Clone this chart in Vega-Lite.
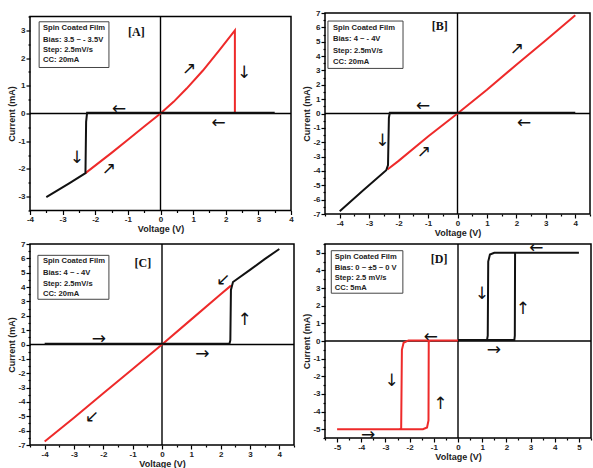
{
"$schema": "https://vega.github.io/schema/vega-lite/v6.json",
"padding": {"left": 7, "top": 8, "right": 0, "bottom": 0},
"autosize": {"type": "pad"},
"columns": 2,
"bounds": "flush",
"align": "each",
"center": {"row": true, "column": false},
"spacing": {"row": 30, "column": 31},
"datasets": {
"zeros": [
{"p":"A","x":0,"y":-3.5,"x2":0,"y2":3.5},{"p":"A","x":-4,"y":0,"x2":4,"y2":0},
{"p":"B","x":0,"y":-7,"x2":0,"y2":7},{"p":"B","x":-4.5,"y":0,"x2":4.5,"y2":0},
{"p":"C","x":0,"y":-7,"x2":0,"y2":7},{"p":"C","x":-4.5,"y":0,"x2":4.5,"y2":0},
{"p":"D","x":0,"y":-5.5,"x2":0,"y2":5.5},{"p":"D","x":-5.5,"y":0,"x2":5.5,"y2":0}
],
"curves": [
{"p":"A","s":"r","k":0,"x":-2.3,"y":-2.15},{"p":"A","s":"r","k":1,"x":-1.5,"y":-1.42},{"p":"A","s":"r","k":2,"x":-1,"y":-0.95},{"p":"A","s":"r","k":3,"x":-0.5,"y":-0.47},{"p":"A","s":"r","k":4,"x":0,"y":0},{"p":"A","s":"r","k":5,"x":0.4,"y":0.42},{"p":"A","s":"r","k":6,"x":0.8,"y":0.9},{"p":"A","s":"r","k":7,"x":1.3,"y":1.55},{"p":"A","s":"r","k":8,"x":1.8,"y":2.28},{"p":"A","s":"r","k":9,"x":2.28,"y":3.0},{"p":"A","s":"r","k":10,"x":2.28,"y":0.03},
{"p":"A","s":"b","k":0,"x":3.5,"y":0.03},{"p":"A","s":"b","k":1,"x":-2.25,"y":0.03},{"p":"A","s":"b","k":2,"x":-2.28,"y":-0.3},{"p":"A","s":"b","k":3,"x":-2.3,"y":-2.15},{"p":"A","s":"b","k":4,"x":-2.8,"y":-2.52},{"p":"A","s":"b","k":5,"x":-3.5,"y":-3.02},
{"p":"B","s":"r","k":0,"x":-2.38,"y":-3.9},{"p":"B","s":"r","k":1,"x":-2,"y":-3.3},{"p":"B","s":"r","k":2,"x":-1,"y":-1.6},{"p":"B","s":"r","k":3,"x":0,"y":0},{"p":"B","s":"r","k":4,"x":1,"y":1.65},{"p":"B","s":"r","k":5,"x":2,"y":3.4},{"p":"B","s":"r","k":6,"x":3,"y":5.1},{"p":"B","s":"r","k":7,"x":4,"y":6.85},
{"p":"B","s":"b","k":0,"x":4,"y":0.05},{"p":"B","s":"b","k":1,"x":-2.3,"y":0.05},{"p":"B","s":"b","k":2,"x":-2.33,"y":-0.3},{"p":"B","s":"b","k":3,"x":-2.36,"y":-3.6},{"p":"B","s":"b","k":4,"x":-2.42,"y":-3.95},{"p":"B","s":"b","k":5,"x":-3.2,"y":-5.35},{"p":"B","s":"b","k":6,"x":-4,"y":-6.8},
{"p":"C","s":"r","k":0,"x":2.35,"y":4.1},{"p":"C","s":"r","k":1,"x":2,"y":3.5},{"p":"C","s":"r","k":2,"x":1,"y":1.75},{"p":"C","s":"r","k":3,"x":0,"y":0},{"p":"C","s":"r","k":4,"x":-1,"y":-1.7},{"p":"C","s":"r","k":5,"x":-2,"y":-3.4},{"p":"C","s":"r","k":6,"x":-3,"y":-5.1},{"p":"C","s":"r","k":7,"x":-4,"y":-6.75},
{"p":"C","s":"b","k":0,"x":-4,"y":0.05},{"p":"C","s":"b","k":1,"x":2.3,"y":0.05},{"p":"C","s":"b","k":2,"x":2.33,"y":0.3},{"p":"C","s":"b","k":3,"x":2.35,"y":3.8},{"p":"C","s":"b","k":4,"x":2.42,"y":4.35},{"p":"C","s":"b","k":5,"x":3,"y":5.2},{"p":"C","s":"b","k":6,"x":3.5,"y":5.95},{"p":"C","s":"b","k":7,"x":4,"y":6.65},
{"p":"D","s":"b","k":0,"x":0,"y":0.05},{"p":"D","s":"b","k":1,"x":2.33,"y":0.05},{"p":"D","s":"b","k":2,"x":2.35,"y":0.3},{"p":"D","s":"b","k":3,"x":2.36,"y":5.0},{"p":"D","s":"b","k":4,"x":5,"y":5.0},{"p":"D","s":"b","k":5,"x":1.5,"y":5.0},{"p":"D","s":"b","k":6,"x":1.32,"y":4.9},{"p":"D","s":"b","k":7,"x":1.25,"y":4.5},{"p":"D","s":"b","k":8,"x":1.23,"y":0.3},{"p":"D","s":"b","k":9,"x":1.2,"y":0.05},{"p":"D","s":"b","k":10,"x":0,"y":0.05},
{"p":"D","s":"r","k":0,"x":0,"y":0.03},{"p":"D","s":"r","k":1,"x":-2.05,"y":0.03},{"p":"D","s":"r","k":2,"x":-2.25,"y":-0.1},{"p":"D","s":"r","k":3,"x":-2.32,"y":-0.5},{"p":"D","s":"r","k":4,"x":-2.35,"y":-4.95},{"p":"D","s":"r","k":5,"x":-2.4,"y":-5.0},{"p":"D","s":"r","k":6,"x":-5,"y":-5.0},{"p":"D","s":"r","k":7,"x":-1.45,"y":-5.0},{"p":"D","s":"r","k":8,"x":-1.28,"y":-4.9},{"p":"D","s":"r","k":9,"x":-1.22,"y":-4.5},{"p":"D","s":"r","k":10,"x":-1.21,"y":-0.05},{"p":"D","s":"r","k":11,"x":-1.15,"y":0.03},{"p":"D","s":"r","k":12,"x":0,"y":0.03}
],
"boxes": [
{"p":"A","x":-3.72,"x2":-1.58,"y":3.31,"y2":1.66},
{"p":"B","x":-4.4,"x2":-1.85,"y":6.44,"y2":3.14},
{"p":"C","x":-4.23,"x2":-1.81,"y":6.21,"y2":3.15},
{"p":"D","x":-5.24,"x2":-2.28,"y":5.12,"y2":2.71}
],
"notes": [
{"p":"A","x":-3.6,"y":3.07,"t":"Spin Coated Film"},{"p":"A","x":-3.6,"y":2.66,"t":"Bias: 3.5 ~ - 3.5V"},{"p":"A","x":-3.6,"y":2.3,"t":"Step: 2.5mV/s"},{"p":"A","x":-3.6,"y":1.94,"t":"CC:  20mA"},
{"p":"B","x":-4.23,"y":5.93,"t":"Spin Coated Film"},{"p":"B","x":-4.23,"y":5.17,"t":"Bias: 4 ~ - 4V"},{"p":"B","x":-4.23,"y":4.35,"t":"Step: 2.5mV/s"},{"p":"B","x":-4.23,"y":3.59,"t":"CC:  20mA"},
{"p":"C","x":-4.06,"y":5.82,"t":"Spin Coated Film"},{"p":"C","x":-4.06,"y":5.0,"t":"Bias: 4 ~ - 4V"},{"p":"C","x":-4.06,"y":4.24,"t":"Step: 2.5mV/s"},{"p":"C","x":-4.06,"y":3.53,"t":"CC:  20mA"},
{"p":"D","x":-5.1,"y":4.78,"t":"Spin Coated Film"},{"p":"D","x":-5.1,"y":4.16,"t":"Bias: 0 ~ ±5 ~ 0 V"},{"p":"D","x":-5.1,"y":3.58,"t":"Step: 2.5 mV/s"},{"p":"D","x":-5.1,"y":3.01,"t":"CC:  5mA"}
],
"tags": [
{"p":"A","x":-0.74,"y":2.93,"t":"[A]"},{"p":"B","x":-0.6,"y":6.09,"t":"[B]"},{"p":"C","x":-0.65,"y":5.7,"t":"[C]"},{"p":"D","x":-0.78,"y":4.65,"t":"[D]"}
],
"arrows": [
{"p":"A","x":-1.27,"y":0.15,"t":"←"},{"p":"A","x":0.88,"y":1.62,"t":"↗"},{"p":"A","x":2.56,"y":1.46,"t":"↓"},{"p":"A","x":1.78,"y":-0.33,"t":"←"},{"p":"A","x":-2.56,"y":-1.62,"t":"↓"},{"p":"A","x":-1.58,"y":-2.02,"t":"↗"},
{"p":"B","x":-1.17,"y":0.52,"t":"←"},{"p":"B","x":2.02,"y":4.46,"t":"↗"},{"p":"B","x":2.26,"y":-0.64,"t":"←"},{"p":"B","x":-2.55,"y":-1.91,"t":"↓"},{"p":"B","x":-1.14,"y":-2.68,"t":"↗"},
{"p":"C","x":-2.15,"y":0.38,"t":"→"},{"p":"C","x":2.08,"y":4.46,"t":"↙"},{"p":"C","x":2.82,"y":1.74,"t":"↑"},{"p":"C","x":1.38,"y":-0.68,"t":"→"},{"p":"C","x":-2.39,"y":-5.08,"t":"↙"},
{"p":"D","x":3.24,"y":5.26,"t":"←"},{"p":"D","x":0.99,"y":2.69,"t":"↓"},{"p":"D","x":2.68,"y":1.82,"t":"↑"},{"p":"D","x":-1.12,"y":0.24,"t":"←"},{"p":"D","x":1.48,"y":-0.49,"t":"→"},{"p":"D","x":-2.75,"y":-2.27,"t":"↓"},{"p":"D","x":-0.73,"y":-3.57,"t":"↑"},{"p":"D","x":-3.72,"y":-5.31,"t":"→"}
]
},
"concat": [
{
"width": 261, "height": 194,
"encoding": {
"x": {"field":"x","type":"quantitative","scale":{"domain":[-4,4],"nice":false,"zero":false},"axis":{"title":"Voltage (V)","values":[-4,-3.5,-3,-2.5,-2,-1.5,-1,-0.5,0,0.5,1,1.5,2,2.5,3,3.5,4],"labelExpr":"datum.value % 1 === 0 ? toString(datum.value) : ''","tickSize":{"condition":{"test":"datum.value % 1 === 0","value":4},"value":2}}},
"y": {"field":"y","type":"quantitative","scale":{"domain":[-3.5,3.5],"nice":false,"zero":false},"axis":{"title":"Current (mA)","values":[-3.5,-3,-2.5,-2,-1.5,-1,-0.5,0,0.5,1,1.5,2,2.5,3,3.5],"labelExpr":"datum.value % 1 === 0 ? toString(datum.value) : ''","tickSize":{"condition":{"test":"datum.value % 1 === 0","value":4},"value":2}}}
},
"layer": [
{"data":{"name":"zeros"},"transform":[{"filter":"datum.p === 'A'"}],"mark":{"type":"rule","color":"#000","strokeWidth":1.4},"encoding":{"x2":{"field":"x2"},"y2":{"field":"y2"}}},
{"data":{"name":"curves"},"transform":[{"filter":"datum.p === 'A'"}],"mark":{"type":"line","strokeWidth":2},"encoding":{"color":{"field":"s","type":"nominal","scale":{"domain":["r","b"],"range":["#ee2a2a","#111111"]},"legend":null},"order":{"field":"k","type":"quantitative"}}},
{"data":{"name":"boxes"},"transform":[{"filter":"datum.p === 'A'"}],"mark":{"type":"rect","fill":"#ffffff","stroke":"#444","strokeWidth":1},"encoding":{"x2":{"field":"x2"},"y2":{"field":"y2"}}},
{"data":{"name":"notes"},"transform":[{"filter":"datum.p === 'A'"}],"mark":{"type":"text","align":"left","baseline":"middle","font":"Liberation Sans","fontWeight":"bold","fontSize":7.6,"color":"#222"},"encoding":{"text":{"field":"t"}}},
{"data":{"name":"tags"},"transform":[{"filter":"datum.p === 'A'"}],"mark":{"type":"text","align":"center","baseline":"middle","font":"Liberation Serif","fontWeight":"bold","fontSize":12,"color":"#111"},"encoding":{"text":{"field":"t"}}},
{"data":{"name":"arrows"},"transform":[{"filter":"datum.p === 'A'"}],"mark":{"type":"text","align":"center","baseline":"middle","font":"DejaVu Sans","fontSize":17,"color":"#111"},"encoding":{"text":{"field":"t"}}}
]
},
{
"width": 265, "height": 201,
"encoding": {
"x": {"field":"x","type":"quantitative","scale":{"domain":[-4.5,4.5],"nice":false,"zero":false},"axis":{"title":"Voltage (V)","values":[-4.5,-4,-3.5,-3,-2.5,-2,-1.5,-1,-0.5,0,0.5,1,1.5,2,2.5,3,3.5,4,4.5],"labelExpr":"datum.value % 1 === 0 ? toString(datum.value) : ''","tickSize":{"condition":{"test":"datum.value % 1 === 0","value":4},"value":2}}},
"y": {"field":"y","type":"quantitative","scale":{"domain":[-7,7],"nice":false,"zero":false},"axis":{"title":"Current (mA)","values":[-7,-6.5,-6,-5.5,-5,-4.5,-4,-3.5,-3,-2.5,-2,-1.5,-1,-0.5,0,0.5,1,1.5,2,2.5,3,3.5,4,4.5,5,5.5,6,6.5,7],"labelExpr":"datum.value % 1 === 0 ? toString(datum.value) : ''","tickSize":{"condition":{"test":"datum.value % 1 === 0","value":4},"value":2}}}
},
"layer": [
{"data":{"name":"zeros"},"transform":[{"filter":"datum.p === 'B'"}],"mark":{"type":"rule","color":"#000","strokeWidth":1.4},"encoding":{"x2":{"field":"x2"},"y2":{"field":"y2"}}},
{"data":{"name":"curves"},"transform":[{"filter":"datum.p === 'B'"}],"mark":{"type":"line","strokeWidth":2},"encoding":{"color":{"field":"s","type":"nominal","scale":{"domain":["r","b"],"range":["#ee2a2a","#111111"]},"legend":null},"order":{"field":"k","type":"quantitative"}}},
{"data":{"name":"boxes"},"transform":[{"filter":"datum.p === 'B'"}],"mark":{"type":"rect","fill":"#ffffff","stroke":"#444","strokeWidth":1},"encoding":{"x2":{"field":"x2"},"y2":{"field":"y2"}}},
{"data":{"name":"notes"},"transform":[{"filter":"datum.p === 'B'"}],"mark":{"type":"text","align":"left","baseline":"middle","font":"Liberation Sans","fontWeight":"bold","fontSize":7.6,"color":"#222"},"encoding":{"text":{"field":"t"}}},
{"data":{"name":"tags"},"transform":[{"filter":"datum.p === 'B'"}],"mark":{"type":"text","align":"center","baseline":"middle","font":"Liberation Serif","fontWeight":"bold","fontSize":12,"color":"#111"},"encoding":{"text":{"field":"t"}}},
{"data":{"name":"arrows"},"transform":[{"filter":"datum.p === 'B'"}],"mark":{"type":"text","align":"center","baseline":"middle","font":"DejaVu Sans","fontSize":17,"color":"#111"},"encoding":{"text":{"field":"t"}}}
]
},
{
"width": 264, "height": 201,
"encoding": {
"x": {"field":"x","type":"quantitative","scale":{"domain":[-4.5,4.5],"nice":false,"zero":false},"axis":{"title":"Voltage (V)","values":[-4.5,-4,-3.5,-3,-2.5,-2,-1.5,-1,-0.5,0,0.5,1,1.5,2,2.5,3,3.5,4,4.5],"labelExpr":"datum.value % 1 === 0 ? toString(datum.value) : ''","tickSize":{"condition":{"test":"datum.value % 1 === 0","value":4},"value":2}}},
"y": {"field":"y","type":"quantitative","scale":{"domain":[-7,7],"nice":false,"zero":false},"axis":{"title":"Current (mA)","values":[-7,-6.5,-6,-5.5,-5,-4.5,-4,-3.5,-3,-2.5,-2,-1.5,-1,-0.5,0,0.5,1,1.5,2,2.5,3,3.5,4,4.5,5,5.5,6,6.5,7],"labelExpr":"datum.value % 1 === 0 ? toString(datum.value) : ''","tickSize":{"condition":{"test":"datum.value % 1 === 0","value":4},"value":2}}}
},
"layer": [
{"data":{"name":"zeros"},"transform":[{"filter":"datum.p === 'C'"}],"mark":{"type":"rule","color":"#000","strokeWidth":1.4},"encoding":{"x2":{"field":"x2"},"y2":{"field":"y2"}}},
{"data":{"name":"curves"},"transform":[{"filter":"datum.p === 'C'"}],"mark":{"type":"line","strokeWidth":2},"encoding":{"color":{"field":"s","type":"nominal","scale":{"domain":["r","b"],"range":["#ee2a2a","#111111"]},"legend":null},"order":{"field":"k","type":"quantitative"}}},
{"data":{"name":"boxes"},"transform":[{"filter":"datum.p === 'C'"}],"mark":{"type":"rect","fill":"#ffffff","stroke":"#444","strokeWidth":1},"encoding":{"x2":{"field":"x2"},"y2":{"field":"y2"}}},
{"data":{"name":"notes"},"transform":[{"filter":"datum.p === 'C'"}],"mark":{"type":"text","align":"left","baseline":"middle","font":"Liberation Sans","fontWeight":"bold","fontSize":7.6,"color":"#222"},"encoding":{"text":{"field":"t"}}},
{"data":{"name":"tags"},"transform":[{"filter":"datum.p === 'C'"}],"mark":{"type":"text","align":"center","baseline":"middle","font":"Liberation Serif","fontWeight":"bold","fontSize":12,"color":"#111"},"encoding":{"text":{"field":"t"}}},
{"data":{"name":"arrows"},"transform":[{"filter":"datum.p === 'C'"}],"mark":{"type":"text","align":"center","baseline":"middle","font":"DejaVu Sans","fontSize":17,"color":"#111"},"encoding":{"text":{"field":"t"}}}
]
},
{
"width": 266, "height": 194,
"encoding": {
"x": {"field":"x","type":"quantitative","scale":{"domain":[-5.5,5.5],"nice":false,"zero":false},"axis":{"title":"Voltage (V)","values":[-5.5,-5,-4.5,-4,-3.5,-3,-2.5,-2,-1.5,-1,-0.5,0,0.5,1,1.5,2,2.5,3,3.5,4,4.5,5,5.5],"labelExpr":"datum.value % 1 === 0 ? toString(datum.value) : ''","tickSize":{"condition":{"test":"datum.value % 1 === 0","value":4},"value":2}}},
"y": {"field":"y","type":"quantitative","scale":{"domain":[-5.5,5.5],"nice":false,"zero":false},"axis":{"title":"Current (mA)","values":[-5.5,-5,-4.5,-4,-3.5,-3,-2.5,-2,-1.5,-1,-0.5,0,0.5,1,1.5,2,2.5,3,3.5,4,4.5,5,5.5],"labelExpr":"datum.value % 1 === 0 ? toString(datum.value) : ''","tickSize":{"condition":{"test":"datum.value % 1 === 0","value":4},"value":2}}}
},
"layer": [
{"data":{"name":"zeros"},"transform":[{"filter":"datum.p === 'D'"}],"mark":{"type":"rule","color":"#000","strokeWidth":1.4},"encoding":{"x2":{"field":"x2"},"y2":{"field":"y2"}}},
{"data":{"name":"curves"},"transform":[{"filter":"datum.p === 'D'"}],"mark":{"type":"line","strokeWidth":2},"encoding":{"color":{"field":"s","type":"nominal","scale":{"domain":["r","b"],"range":["#ee2a2a","#111111"]},"legend":null},"order":{"field":"k","type":"quantitative"}}},
{"data":{"name":"boxes"},"transform":[{"filter":"datum.p === 'D'"}],"mark":{"type":"rect","fill":"#ffffff","stroke":"#444","strokeWidth":1},"encoding":{"x2":{"field":"x2"},"y2":{"field":"y2"}}},
{"data":{"name":"notes"},"transform":[{"filter":"datum.p === 'D'"}],"mark":{"type":"text","align":"left","baseline":"middle","font":"Liberation Sans","fontWeight":"bold","fontSize":7.6,"color":"#222"},"encoding":{"text":{"field":"t"}}},
{"data":{"name":"tags"},"transform":[{"filter":"datum.p === 'D'"}],"mark":{"type":"text","align":"center","baseline":"middle","font":"Liberation Serif","fontWeight":"bold","fontSize":12,"color":"#111"},"encoding":{"text":{"field":"t"}}},
{"data":{"name":"arrows"},"transform":[{"filter":"datum.p === 'D'"}],"mark":{"type":"text","align":"center","baseline":"middle","font":"DejaVu Sans","fontSize":17,"color":"#111"},"encoding":{"text":{"field":"t"}}}
]
}
],
"config": {
"view": {"stroke": "#000", "strokeWidth": 1.5},
"axis": {"domain": false, "grid": false, "labelFont": "Liberation Sans", "labelFontWeight": "bold", "labelFontSize": 8, "labelColor": "#222", "titleFont": "Liberation Sans", "titleFontWeight": "bold", "titleFontSize": 9, "titleColor": "#222", "tickColor": "#000", "tickWidth": 1.2, "labelPadding": 1, "titlePadding": 1, "labelFlush": false, "labelOverlap": false}
}
}
